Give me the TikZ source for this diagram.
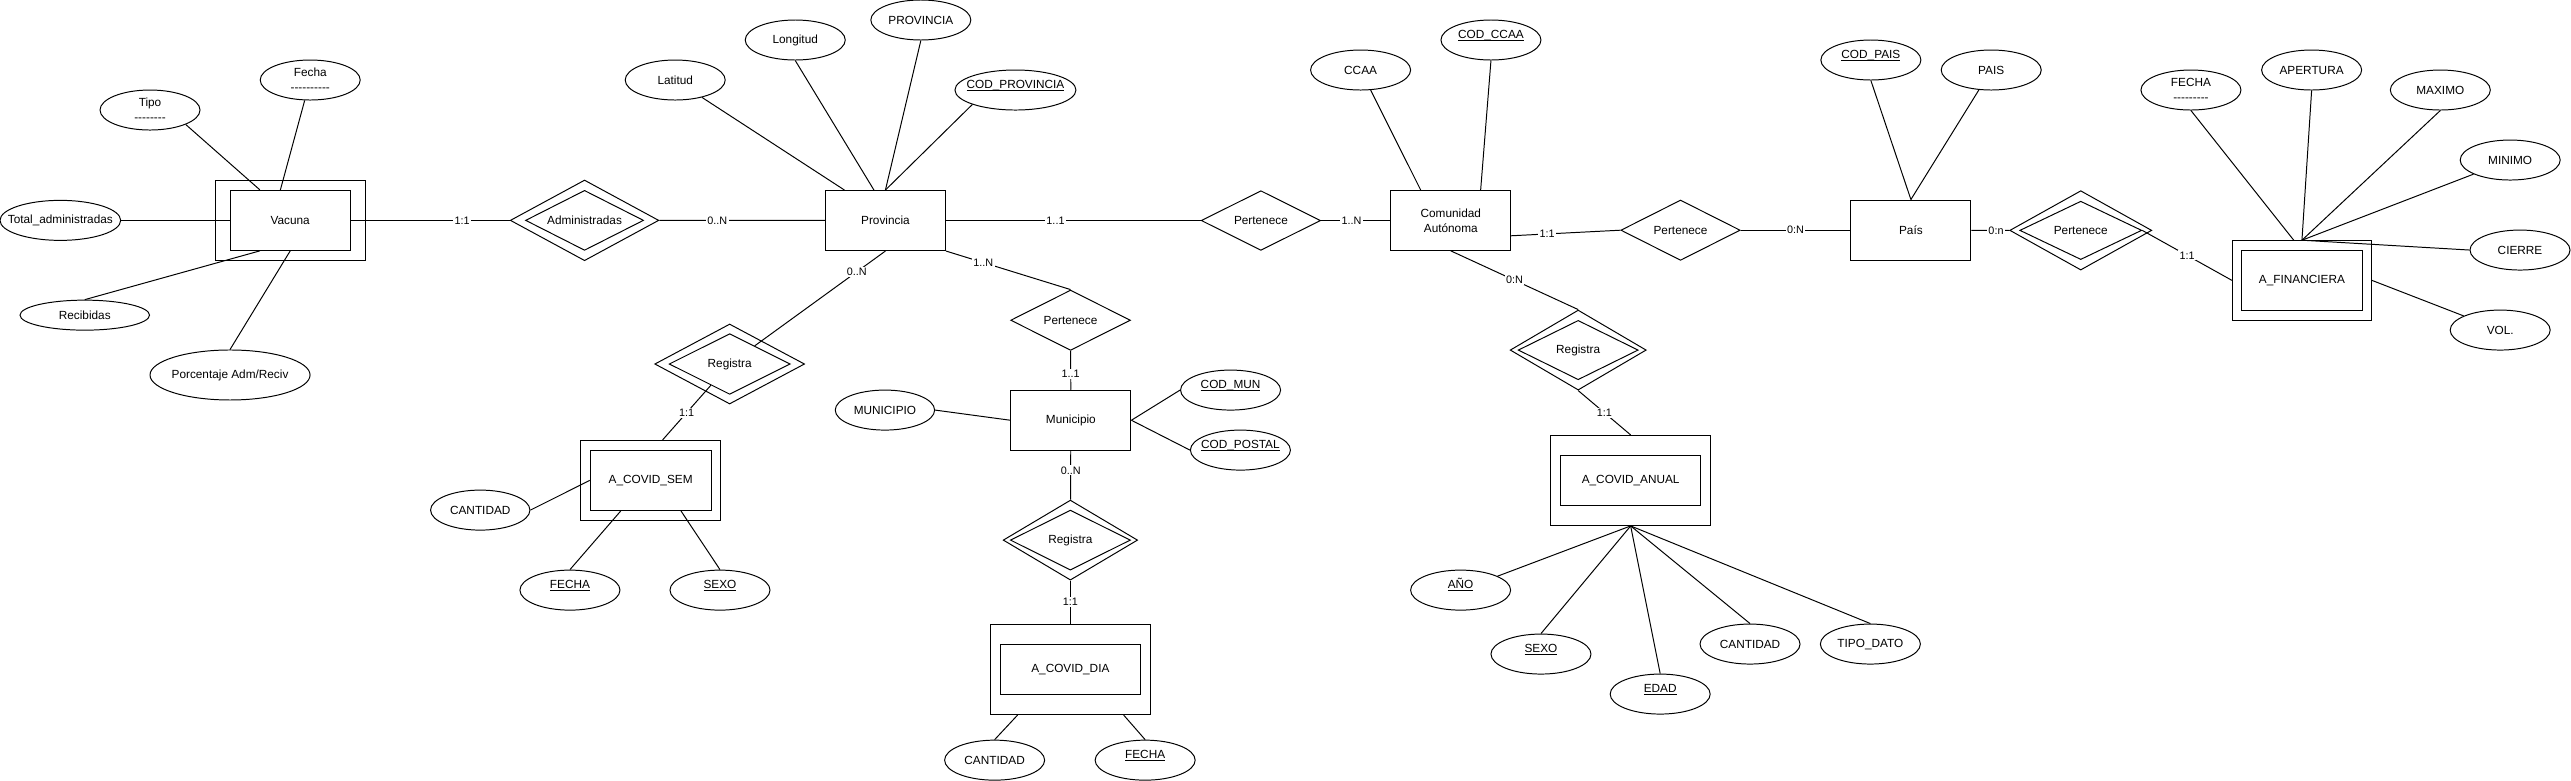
\documentclass[tikz,border=0pt]{standalone}
\usepackage{fontspec}
\setmainfont{Liberation Sans}
\usepackage{tikz}
\usetikzlibrary{shapes.geometric}

\newcommand{\erfont}{\fontsize{7.2}{9.2}\selectfont}
\newcommand{\cardfont}{\fontsize{6.6}{7}\selectfont}
\newcommand{\rayas}[1]{\foreach \r in {1,...,#1}{-}}
\newcommand{\clave}[1]{\underline{\smash{#1}}}

\tikzset{
  attr/.style={draw, ellipse, inner xsep=-12pt, inner ysep=0pt, minimum width=61pt, minimum height=24.4pt, font=\erfont, align=center},
  ent/.style={draw, rectangle, inner sep=0pt, minimum width=73.2pt, minimum height=36.6pt, font=\erfont, align=center},
  rel/.style={draw, diamond, aspect=2, inner sep=0pt, minimum width=72.8pt, minimum height=36.6pt, font=\erfont},
  card/.style={fill=white, inner sep=0.8pt, font=\cardfont}
}

\begin{document}
\begin{tikzpicture}[x=1pt, y=-1pt, line width=0.6pt]
\useasboundingbox (0,0) rectangle (1568,476);

\node[ent, minimum width=91.5pt, minimum height=48.8pt] (vacOut) at (177,134.4) {};
\node[ent] (vac) at (177,134.4) {Vacuna};
\node[attr] (tipo) at (91.5,67.1) {Tipo\\\rayas{8}};
\node[attr] (fechaV) at (189.2,48.8) {Fecha\\\rayas{10}};
\node[attr, minimum width=73.6pt] (totAdm) at (36.8,134.4) {Total\_administradas};
\node[attr, minimum width=79pt, minimum height=18.3pt] (recib) at (51.7,192.2) {Recibidas};
\node[attr, minimum width=97.6pt, minimum height=30.5pt] (porc) at (140.3,228.7) {Porcentaje Adm/Reciv};

\node[rel, minimum width=90.6pt, minimum height=49.2pt] (admOut) at (356.5,134.4) {};
\node[rel, minimum width=72pt] (adm) at (356.5,134.4) {Administradas};

\node[ent] (prov) at (540,134.5) {Provincia};
\node[attr] (lat) at (411.8,48.8) {Latitud};
\node[attr] (lon) at (485,24.4) {Longitud};
\node[attr] (provAt) at (561.6,12.2) {PROVINCIA};
\node[attr, minimum width=73.8pt] (codProv) at (619.3,54.9) {\clave{COD\_PROVINCIA}};

\node[rel, minimum width=91.4pt, minimum height=48.8pt] (regSemOut) at (445,222) {};
\node[rel, minimum width=73.8pt, minimum height=37pt] (regSem) at (445,222) {Registra};
\node[ent, minimum width=85.3pt, minimum height=48.8pt] (semOut) at (396.8,293) {};
\node[ent, minimum width=73.7pt] (sem) at (396.8,293) {A\_COVID\_SEM};
\node[attr, minimum width=60.6pt] (cantSem) at (292.9,311.1) {CANTIDAD};
\node[attr] (fechaSem) at (347.6,359.9) {\clave{FECHA}};
\node[attr] (sexoSem) at (439.1,359.9) {\clave{SEXO}};

\node[rel, minimum width=73pt, minimum height=36.8pt] (perMun) at (652.9,195.3) {Pertenece};
\node[ent] (mun) at (653.1,256.3) {Municipio};
\node[attr, minimum width=60.6pt] (muni) at (539.7,250.1) {MUNICIPIO};
\node[attr] (codMun) at (750.5,237.9) {\clave{COD\_MUN}};
\node[attr] (codPostal) at (756.5,274.5) {\clave{COD\_POSTAL}};
\node[rel, minimum width=82pt, minimum height=48.8pt] (regDiaOut) at (652.8,329.4) {};
\node[rel, minimum width=73.2pt] (regDia) at (652.8,329.4) {Registra};
\node[ent, minimum width=97.5pt, minimum height=55.2pt] (diaOut) at (652.8,408.2) {};
\node[ent, minimum width=85pt, minimum height=30.5pt] (dia) at (652.8,408.2) {A\_COVID\_DIA};
\node[attr] (cantDia) at (606.6,463.6) {CANTIDAD};
\node[attr] (fechaDia) at (698.4,463.6) {\clave{FECHA}};

\node[rel, minimum height=36.4pt] (perProv) at (769,134.5) {Pertenece};
\node[ent, minimum width=73pt, minimum height=36.4pt] (ca) at (884.8,134.5) {Comunidad\\Autónoma};
\node[attr] (ccaa) at (829.8,42.7) {CCAA};
\node[attr] (codCcaa) at (909.3,24.4) {\clave{COD\_CCAA}};

\node[rel, minimum height=36.8pt] (perCA) at (1024.9,140.4) {Pertenece};
\node[ent, minimum height=36.8pt] (pais) at (1165.4,140.4) {País};
\node[attr] (codPais) at (1141,36.6) {\clave{COD\_PAIS}};
\node[attr] (paisAt) at (1214.4,42.7) {PAIS};

\node[rel, minimum width=83pt, minimum height=48.8pt] (regAnOut) at (962.5,213.5) {};
\node[rel, minimum width=73.2pt, minimum height=36.2pt] (regAn) at (962.5,213.5) {Registra};
\node[ent, minimum width=97.5pt, minimum height=54.9pt] (anualOut) at (994.5,293) {};
\node[ent, minimum width=85.4pt, minimum height=30.4pt] (anual) at (994.5,293) {A\_COVID\_ANUAL};
\node[attr] (ano) at (890.8,359.9) {\clave{AÑO}};
\node[attr] (sexoAn) at (939.8,398.9) {\clave{SEXO}};
\node[attr] (edad) at (1012.5,423.3) {\clave{EDAD}};
\node[attr] (cantAn) at (1067.3,392.8) {CANTIDAD};
\node[attr] (tipoDato) at (1140.7,392.8) {TIPO\_DATO};

\node[rel, minimum width=86.6pt, minimum height=48.4pt] (perFinOut) at (1269,140.5) {};
\node[rel, minimum width=74.4pt, minimum height=35.6pt] (perFin) at (1269,140.5) {Pertenece};
\node[ent, minimum width=84.8pt, minimum height=48.4pt] (finOut) at (1403.9,171) {};
\node[ent, minimum width=73.7pt, minimum height=36.2pt] (fin) at (1403.9,171) {A\_FINANCIERA};
\node[attr] (fechaFin) at (1336.2,54.9) {FECHA\\\rayas{9}};
\node[attr] (apert) at (1409.8,42.7) {APERTURA};
\node[attr] (maxi) at (1488.3,54.9) {MAXIMO};
\node[attr] (mini) at (1530.9,97.6) {MINIMO};
\node[attr] (cierre) at (1536.9,152.5) {CIERRE};
\node[attr] (vol) at (1524.8,201.3) {VOL.};

\draw (tipo.south east) -- ([xshift=-18.5pt]vac.north);
\draw (fechaV) -- ([xshift=-6pt]vac.north);
\draw (totAdm) -- (vac);
\draw (recib.north) -- ([xshift=-18.5pt]vac.south);
\draw (porc.north) -- (vac.south);
\draw (vac) -- node[card, pos=0.7] {1:1} (admOut.west);
\draw (admOut.east) -- node[card, pos=0.35] {0..N} (prov);

\draw (lat) -- ([xshift=-25pt]prov.north);
\draw (lon.south) -- ([xshift=-7pt]prov.north);
\draw (provAt.south) -- (prov.north);
\draw (codProv.south west) -- (prov.north);
\draw (prov) -- node[card, pos=0.43] {1..1} (perProv);
\draw (perProv) -- node[card, pos=0.44] {1..N} (ca);
\draw (prov.south east) -- node[card, pos=0.3] {1..N} (perMun.north);
\draw (prov.south) -- node[card, pos=0.22] {0..N} (regSem);
\draw (regSem) -- node[card] {1:1} ([xshift=7.3pt]semOut.north);

\draw (cantSem.east) -- (sem.west);
\draw (fechaSem.north) -- ([xshift=-18.2pt]sem.south);
\draw (sexoSem.north) -- ([xshift=18.5pt]sem.south);

\draw (perMun) -- node[card, pos=0.59] {1..1} (mun);
\draw (muni.east) -- (mun.west);
\draw (mun.east) -- (codMun.west);
\draw (mun.east) -- (codPostal.west);
\draw (mun) -- node[card, pos=0.4] {0..N} (regDiaOut);
\draw (regDiaOut) -- node[card] {1:1} (diaOut);
\draw (cantDia.north) -- ([xshift=-32.2pt]diaOut.south);
\draw (fechaDia.north) -- ([xshift=32.5pt]diaOut.south);

\draw (ccaa) -- ([xshift=-18.3pt]ca.north);
\draw (codCcaa.south) -- ([xshift=18.2pt]ca.north);
\draw ([yshift=-9.3pt]ca.east) -- node[card, pos=0.33] {1:1} (perCA.west);
\draw (perCA) -- node[card] {0:N} (pais);
\draw (ca.south) -- node[card] {0:N} (regAnOut.north);
\draw (regAnOut.south) -- node[card] {1:1} (anualOut.north);

\draw (ano) -- (anualOut.south);
\draw (sexoAn.north) -- (anualOut.south);
\draw (edad.north) -- (anualOut.south);
\draw (cantAn.north) -- (anualOut.south);
\draw (tipoDato.north) -- (anualOut.south);

\draw (codPais.south) -- (pais.north);
\draw (paisAt) -- (pais.north);
\draw (pais) -- node[card, pos=0.65] {0:n} (perFinOut.west);
\draw (perFin.east) -- node[card] {1:1} (finOut.west);

\draw (fechaFin.south) -- ([xshift=-5pt]finOut.north);
\draw (apert.south) -- (finOut.north);
\draw (maxi.south) -- (finOut.north);
\draw (mini) -- (finOut.north);
\draw (cierre.west) -- (finOut.north);
\draw (vol) -- (finOut.east);
\end{tikzpicture}
\end{document}
